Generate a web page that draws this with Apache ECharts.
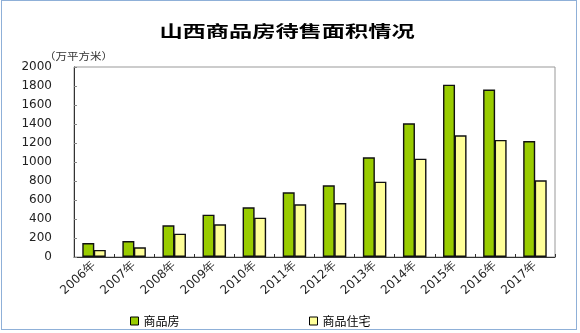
<!DOCTYPE html>
<html>
<head>
<meta charset="utf-8">
<script src="https://cdn.jsdelivr.net/npm/echarts@6/dist/echarts.min.js"></script>
<style>
  html, body { margin: 0; padding: 0; background: #fff; }
  #frame { position: absolute; left: 1px; top: 0; width: 576px; height: 330px; border: 1px solid #8fb0d8; box-sizing: border-box; }
  #chart { position: absolute; left: 0; top: 0; width: 580px; height: 333px; }
</style>
</head>
<body>
<div id="frame"></div>
<div id="chart"></div>
<script>
// Categories: years
const years = ['2006年','2007年','2008年','2009年','2010年','2011年','2012年','2013年','2014年','2015年','2016年','2017年'];
// Area awaiting sale (10k m²)
const commercialHousing = [147, 168, 333, 446, 523, 681, 755, 1050, 1408, 1814, 1762, 1221];
const residential = [74, 102, 246, 344, 414, 554, 568, 793, 1035, 1281, 1232, 807];
const seriesNames = ['商品房', '商品住宅'];
const yTicks = [0, 200, 400, 600, 800, 1000, 1200, 1400, 1600, 1800, 2000];
const titleText = '山西商品房待售面积情况';
const unitText = '（万平方米）';

const chart = echarts.init(document.getElementById('chart'), null, { renderer: 'canvas' });
const labelFont = 'DejaVu Sans';
const cjk = '"Noto Sans CJK SC"';

const legendBase = {
  top: 310, padding: 5, itemWidth: 8, itemHeight: 8, itemGap: 4, icon: 'rect',
  textStyle: { fontFamily: cjk, fontSize: 12, color: '#000' },
  itemStyle: { borderColor: '#000', borderWidth: 1 }
};

chart.setOption({
  animation: false,
  backgroundColor: 'transparent',
  legend: [
    Object.assign({ data: [seriesNames[0]], left: 125 }, legendBase),
    Object.assign({ data: [seriesNames[1]], left: 304 }, legendBase)
  ],
  graphic: [
    {
      // wide bold heading
      type: 'text', x: 287, y: 31, scaleX: 1.45,
      style: {
        text: titleText, fontFamily: cjk, fontSize: 16, fontWeight: 'bold', fill: '#000',
        align: 'center', verticalAlign: 'middle'
      }
    },
    {
      type: 'text', x: 44, y: 51, scaleX: 1.15,
      style: { text: unitText, fontFamily: cjk, fontSize: 10, fill: '#333' }
    }
  ],
  grid: {
    left: 74, right: 25, top: 67, bottom: 76,
    show: true, borderColor: '#999', borderWidth: 1, backgroundColor: 'transparent'
  },
  xAxis: {
    type: 'category',
    data: years,
    axisLine: { lineStyle: { color: '#333', width: 1 } },
    axisTick: { show: true, inside: true, length: 3, lineStyle: { color: '#333' } },
    axisLabel: {
      rotate: 42, margin: 7, fontFamily: labelFont, fontSize: 12, color: '#222'
    }
  },
  yAxis: {
    type: 'value',
    min: yTicks[0], max: yTicks[yTicks.length - 1], interval: 200,
    axisLine: { show: true, lineStyle: { color: '#333', width: 1 } },
    axisTick: { show: true, inside: true, length: 3, lineStyle: { color: '#888' } },
    splitLine: { show: false },
    axisLabel: {
      margin: 22, fontFamily: labelFont, fontSize: 12, color: '#222',
      formatter: v => String(v)
    }
  },
  series: [
    {
      name: seriesNames[0], type: 'bar', data: commercialHousing,
      barWidth: 12, barGap: '-4%',
      itemStyle: { color: '#99cc00', borderColor: '#111', borderWidth: 1.4 }
    },
    {
      name: seriesNames[1], type: 'bar', data: residential,
      barWidth: 12,
      itemStyle: { color: '#ffff99', borderColor: '#111', borderWidth: 1.4 }
    }
  ]
});
</script>
</body>
</html>
